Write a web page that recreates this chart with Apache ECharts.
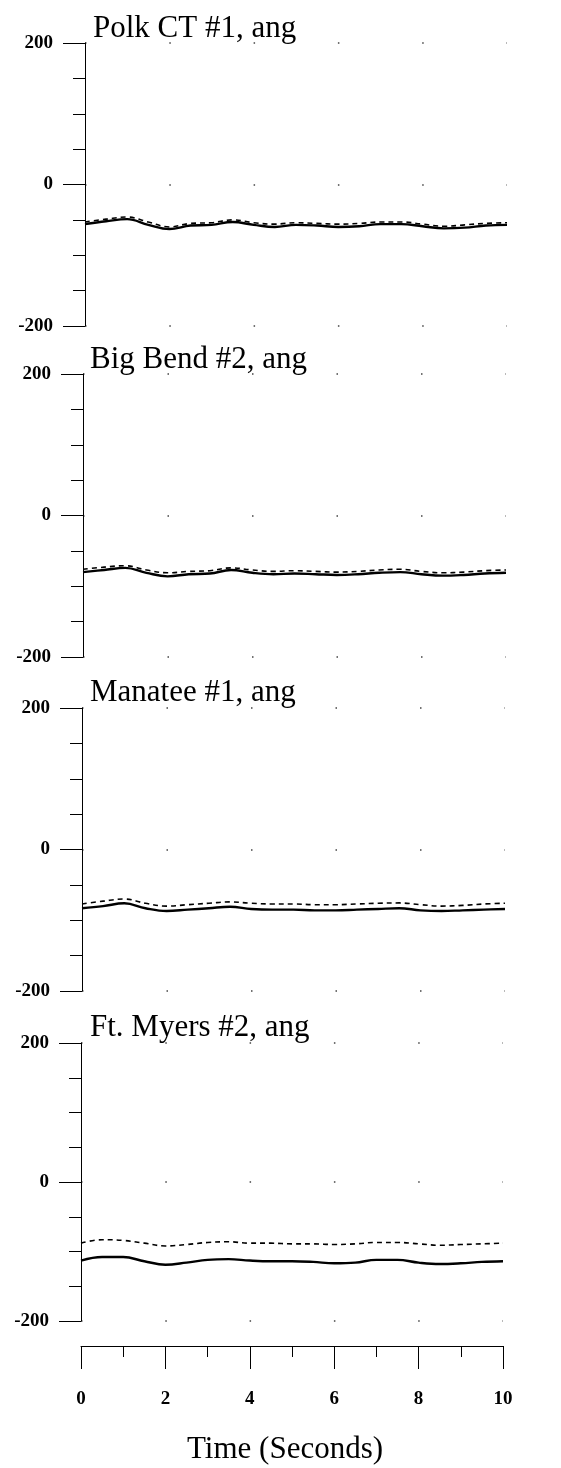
<!DOCTYPE html>
<html><head><meta charset="utf-8">
<script src="https://cdn.jsdelivr.net/npm/echarts@6/dist/echarts.min.js"></script>
<style>html,body{margin:0;padding:0;background:#fff}#c{width:561px;height:1468px}</style>
</head><body><div id="c"></div>
<script>
const time = [0,0.5,1,1.5,2,2.5,3,3.5,4,4.5,5,5.5,6,6.5,7,7.5,8,8.5,9,9.5,10];
const titles = ["Polk CT #1, ang","Big Bend #2, ang","Manatee #1, ang","Ft. Myers #2, ang"];
const polkSolid  = [-56,-52,-49,-57,-63,-58,-57,-53,-57,-60,-57,-58,-60,-59,-56,-56,-59,-62,-61,-58,-57];
const polkDash   = [-53,-49,-46,-53,-60,-55,-54,-50,-54,-56,-54,-55,-56,-55,-53,-53,-56,-59,-57,-55,-54];
const bendSolid  = [-80,-77,-74,-81,-86,-83,-82,-77,-81,-83,-82,-83,-84,-83,-81,-80,-83,-85,-84,-82,-81];
const bendDash   = [-76,-73,-71,-77,-81,-79,-78,-74,-77,-79,-78,-79,-80,-79,-77,-76,-79,-81,-80,-78,-77];
const manSolid   = [-83,-80,-76,-83,-87,-85,-83,-81,-84,-85,-85,-86,-86,-85,-84,-83,-86,-87,-86,-85,-84];
const manDash    = [-77,-73,-70,-76,-80,-78,-76,-74,-76,-77,-77,-78,-78,-77,-76,-75.5,-78,-80,-79,-77,-76];
const myersSolid = [-113,-108,-108,-114,-119,-116,-112,-111,-113,-114,-114,-115,-117,-116,-112,-112,-116,-118,-117,-115,-114];
const myersDash  = [-88,-83,-84,-88,-92,-90,-87,-86,-88,-88,-89,-89,-90,-89,-87,-87,-89,-91,-90,-89,-88];
const yTicks = [-200, 0, 200];
const xTicks = [0, 2, 4, 6, 8, 10];
const xLabel = "Time (Seconds)";

const solids = [polkSolid, bendSolid, manSolid, myersSolid];
const dashes = [polkDash, bendDash, manDash, myersDash];

const serif = "'Liberation Serif','DejaVu Serif',serif";
const grids = [
  {left:85, width:422, top:43, height:283},
  {left:83, width:423, top:374, height:283},
  {left:82, width:423, top:708, height:283},
  {left:81, width:422, top:1043, height:278}
];
const titleTops = [13, 344, 677, 1012];
const titleLefts = [93, 90, 90, 90];

const option = {
  animation:false,
  backgroundColor:'#fff',
  title: titles.map((t,i)=>({text:t, left:titleLefts[i], top:titleTops[i], padding:0,
    textStyle:{fontFamily:serif, fontSize:31, fontWeight:'normal', color:'#000'}})).concat([
    {text:xLabel, left:187, top:1434, padding:0, textStyle:{fontFamily:serif, fontSize:31, fontWeight:'normal', color:'#000'}}
  ]),
  grid: grids,
  xAxis: grids.map((g,i)=>({
    type:'value', gridIndex:i, min:0, max:10, interval:2,
    show: true,
    offset: i===3 ? 25 : 0,
    axisLine:{show:i===3, onZero:false, lineStyle:{color:'#000', width:1}},
    axisTick:{show:i===3, length:23, lineStyle:{color:'#000', width:1}},
    minorTick:{show:i===3, splitNumber:2, length:11, lineStyle:{color:'#000', width:1}},
    axisLabel:{show:i===3, margin:44, fontFamily:serif, fontSize:19, fontWeight:'bold', color:'#000',
      formatter:v=> xTicks.includes(v) ? String(v) : ''},
    splitLine:{show:false}
  })),
  yAxis: grids.map((g,i)=>({
    type:'value', gridIndex:i, min:-200, max:200, interval:200,
    axisLine:{show:true, onZero:false, lineStyle:{color:'#000', width:1}},
    axisTick:{show:true, length:22, lineStyle:{color:'#000', width:1}},
    minorTick:{show:true, splitNumber:4, length:12, lineStyle:{color:'#000', width:1}},
    axisLabel:{margin:32, fontFamily:serif, fontSize:19, fontWeight:'bold', color:'#000',
      formatter:v=> yTicks.includes(v) ? String(v) : ''},
    splitLine:{show:true, lineStyle:{color:'#444', width:1.5, type:[1.5, g.width/5 - 1.6]}}
  })),
  series: []
};
for (let i=0;i<4;i++){
  option.series.push({type:'line', xAxisIndex:i, yAxisIndex:i, smooth:0.4, symbol:'none',
    data: time.map((t,k)=>[t, solids[i][k]]), lineStyle:{color:'#000', width:2.4}});
  option.series.push({type:'line', xAxisIndex:i, yAxisIndex:i, smooth:0.4, symbol:'none',
    data: time.map((t,k)=>[t, dashes[i][k]]), lineStyle:{color:'#000', width:1.6, type:[5,4]}});
}
const chart = echarts.init(document.getElementById('c'), null, {renderer:'canvas'});
chart.setOption(option);
</script></body></html>
